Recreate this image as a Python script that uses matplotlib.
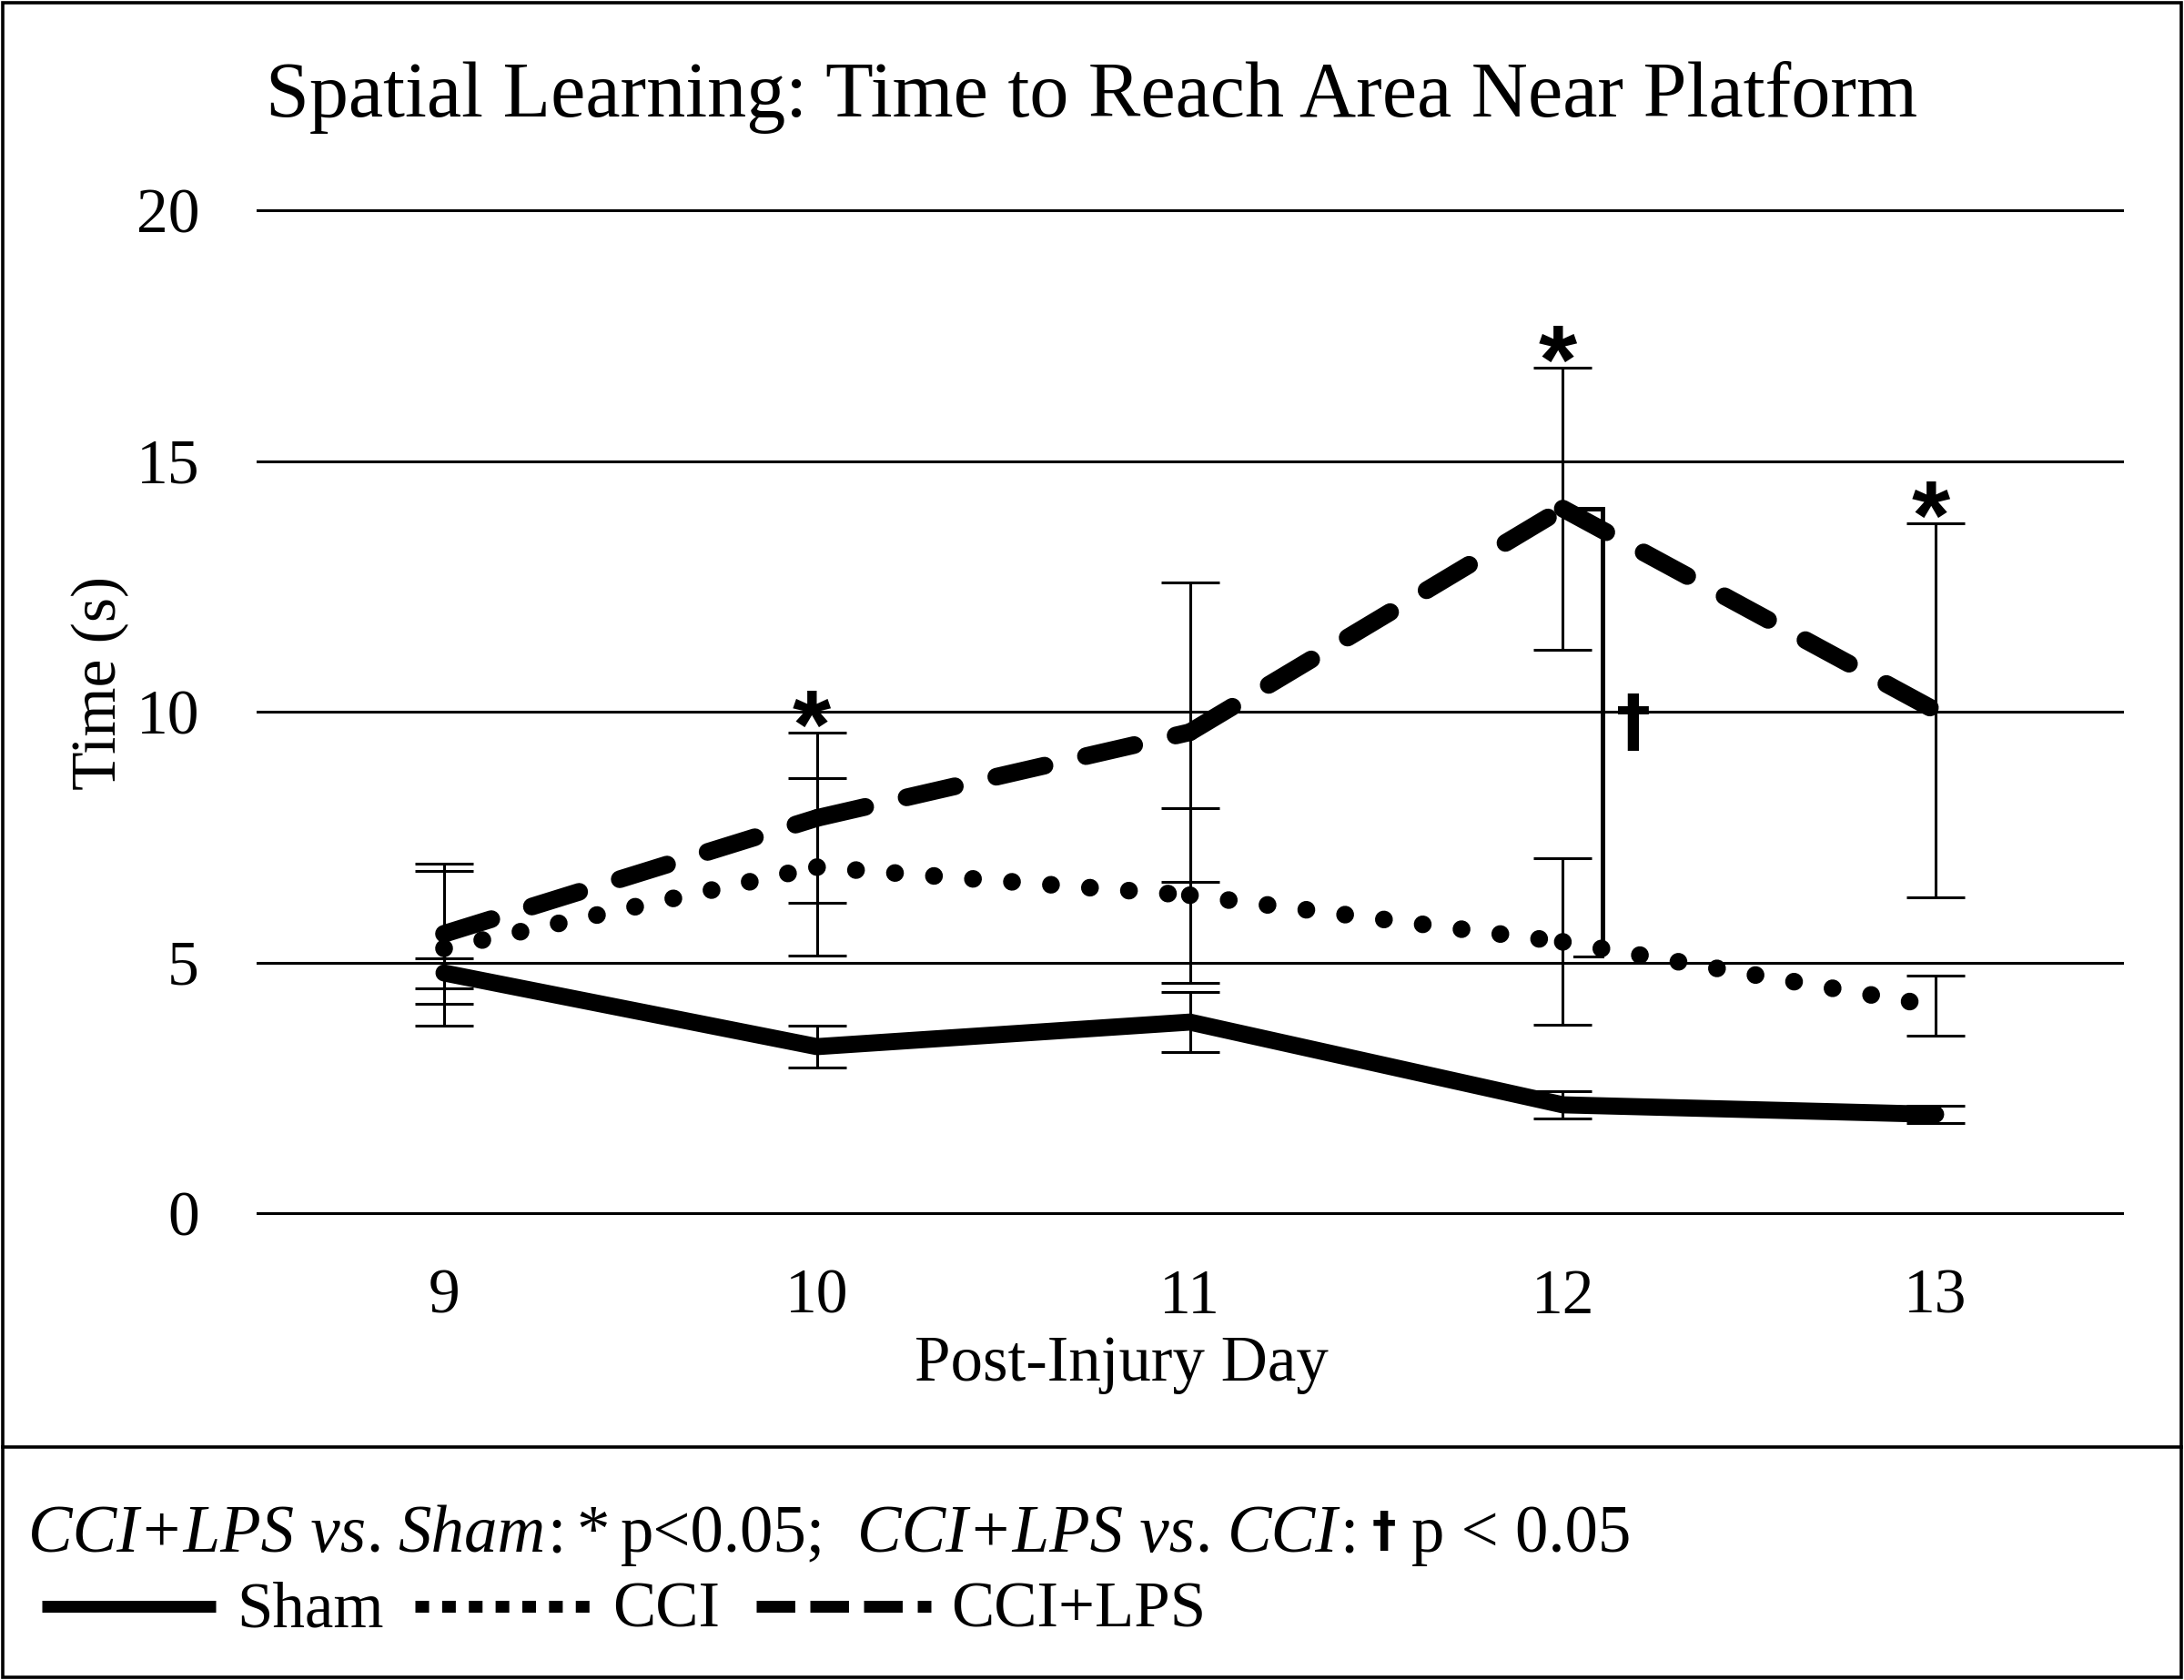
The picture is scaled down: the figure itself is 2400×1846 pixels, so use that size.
import matplotlib
matplotlib.use("Agg")
import matplotlib.pyplot as plt
from matplotlib.lines import Line2D
from matplotlib.patches import Rectangle

# ---------------- data ----------------
days = ["9", "10", "11", "12", "13"]
sham_mean = [4.79, 3.32, 3.81, 2.16, 1.97]
sham_err = [0.30, 0.41, 0.60, 0.28, 0.17]
cci_mean = [5.28, 6.90, 6.34, 5.41, 4.13]
cci_err = [1.55, 1.77, 1.74, 1.66, 0.60]
lps_mean = [5.57, 7.88, 9.59, 14.05, 10.02]
lps_err = [1.40, 1.70, 2.98, 2.81, 3.73]
star_days = ["10", "12", "13"]      # CCI+LPS vs Sham p<0.05
dagger_days = ["12"]                # CCI+LPS vs CCI p<0.05
yticks = [0, 5, 10, 15, 20]

title = "Spatial Learning: Time to Reach Area Near Platform"
xlabel = "Post-Injury Day"
ylabel = "Time (s)"

SERIF = "Liberation Serif"
SANS = "Liberation Sans"
DAGF = "DejaVu Sans"
plt.rcParams["font.family"] = [SERIF, "DejaVu Sans"]

W, H = 2400, 1846
DPI = 100
fig = plt.figure(figsize=(W / DPI, H / DPI), dpi=DPI)
fig.patch.set_facecolor("white")


def fx(px):
    return px / W


def fy(py):
    return 1 - py / H


# axes: x 283..2332 px, y 231..1333 px
ax = fig.add_axes([fx(283), fy(1333), fx(2332) - fx(283), fy(231) - fy(1333)])
ax.set_xlim(-0.5, len(days) - 0.5)
ax.set_ylim(0, 20)
for s in ax.spines.values():
    s.set_visible(False)
ax.set_facecolor("none")
x = list(range(len(days)))
ax.set_xticks(x)
ax.set_xticklabels(days)
ax.set_yticks(yticks)
ax.set_yticklabels([str(v) for v in yticks])
ax.tick_params(axis="both", length=0, labelsize=50)
ax.tick_params(axis="y", pad=46)
ax.tick_params(axis="x", pad=44)

for v in yticks:
    ax.axhline(v, color="black", lw=2.2, clip_on=False, zorder=1)

# error bars
for m, e in [(sham_mean, sham_err), (cci_mean, cci_err), (lps_mean, lps_err)]:
    ax.errorbar(x, m, yerr=e, fmt="none", ecolor="black", elinewidth=2.2,
                capsize=23, capthick=2.2, zorder=3)

# Sham solid
ax.plot(x, sham_mean, color="black", lw=13.5, solid_capstyle="round",
        solid_joinstyle="round", zorder=4)
# CCI dotted (pattern restarts on every segment, as in the original)
for i in range(len(x) - 1):
    ax.plot(x[i:i + 2], cci_mean[i:i + 2], color="black", lw=14,
            dashes=(0.01, 2.2), dash_capstyle="round", zorder=4)
# CCI+LPS dashed
for i in range(len(x) - 1):
    ax.plot(x[i:i + 2], lps_mean[i:i + 2], color="black", lw=14,
            dashes=(2.8, 2.4), dash_capstyle="round", zorder=4)

# significance asterisks
for d in star_days:
    i = days.index(d)
    ax.annotate("*", xy=(i, lps_mean[i] + lps_err[i]), xytext=(-4, -20),
                textcoords="offset points", ha="center", va="baseline",
                fontsize=78, fontweight="bold", family=SANS, zorder=5)

# dagger bracket
for d in dagger_days:
    i = days.index(d)
    bx = i + 0.107
    top = lps_mean[i]
    bot = cci_mean[i] - 0.3
    ax.plot([i, bx, bx], [top, top, bot + 0.12], color="black", lw=3.6,
            solid_joinstyle="miter", zorder=5)
    ax.plot([i + 0.03, bx], [bot, bot], color="black", lw=2.2, zorder=5)
    ax.text(i + 0.19, (top + bot) / 2 + 0.15, "\u2020", ha="center", va="center",
            fontsize=55, fontweight="bold", family=DAGF, zorder=5)

# titles / labels
fig.text(0.5, fy(107), title, ha="center", va="center", fontsize=62)
fig.text(fx(110), fy(750), ylabel, rotation=90, ha="center", va="center",
         fontsize=50)
fig.text(fx(1232), fy(1500), xlabel, ha="center", va="center", fontsize=51)

# outer border and legend separator
fig.patches.append(Rectangle((fx(3), fy(1843)), fx(2394), 1 - 6 / H,
                             transform=fig.transFigure, fill=False,
                             lw=2.6, edgecolor="black"))
fig.lines.append(Line2D([fx(3), fx(2397)], [fy(1590), fy(1590)],
                        transform=fig.transFigure, color="black", lw=2.6))

# legend line 1: significance note, built piece by piece
renderer = fig.canvas.get_renderer()
LFS = 52.5
pieces = [
    ("CCI+LPS vs", "italic", SERIF, LFS, 0, 0),
    (".", "normal", SERIF, LFS, 0, 17),
    ("Sham", "italic", SERIF, LFS, 0, 2),
    (":", "normal", SERIF, LFS, 0, 12),
    ("*", "normal", SERIF, LFS, 0, 12),
    ("p<0.05;", "normal", SERIF, LFS, 0, 35),
    ("CCI+LPS vs", "italic", SERIF, LFS, 0, 0),
    (".", "normal", SERIF, LFS, 0, 17),
    ("CCI", "italic", SERIF, LFS, 0, 2),
    (":", "normal", SERIF, LFS, 0, 15),
    ("\u2020", "bold", DAGF, 38, 6, 17),
    ("p < 0.05", "normal", SERIF, LFS, 0, 0),
]
cx = 31
for txt, style, fam, fs, dy, gap in pieces:
    kw = dict(ha="left", va="baseline", fontsize=fs, family=[fam, "DejaVu Sans"])
    if style == "bold":
        kw["fontweight"] = "bold"
    else:
        kw["style"] = style
    t = fig.text(fx(cx), fy(1705 - dy), txt, **kw)
    bb = t.get_window_extent(renderer)
    cx = bb.x1 + gap

# legend line 2: series samples
ly = fy(1765)
fig.lines.append(Line2D([fx(46), fx(237)], [ly, ly], transform=fig.transFigure,
                        color="black", lw=9.4, solid_capstyle="butt"))
fig.lines.append(Line2D([fx(456), fx(648)], [ly, ly], transform=fig.transFigure,
                        color="black", lw=9.4, dashes=(1.15, 1.1),
                        dash_capstyle="butt"))
fig.lines.append(Line2D([fx(831), fx(1023)], [ly, ly], transform=fig.transFigure,
                        color="black", lw=9.4, dashes=(3.25, 1.27),
                        dash_capstyle="butt"))
for txt, px in [("Sham", 260), ("CCI", 673), ("CCI+LPS", 1045)]:
    fig.text(fx(px), fy(1788), txt, ha="left", va="baseline", fontsize=51)

fig.savefig("out.png", dpi=DPI, facecolor="white")
